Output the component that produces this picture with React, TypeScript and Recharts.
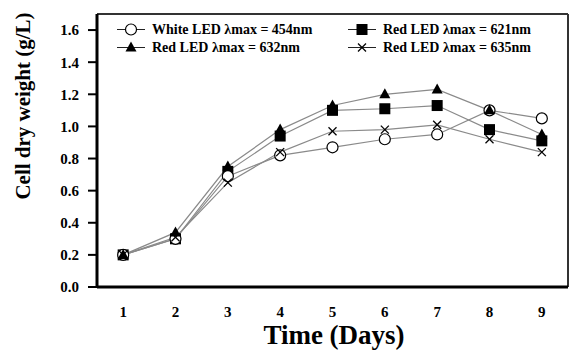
import {
  Label,
  Line,
  LineChart,
  ReferenceLine,
  XAxis,
  YAxis,
} from "recharts";

const days = [1, 2, 3, 4, 5, 6, 7, 8, 9];
const white454 = [0.2, 0.3, 0.69, 0.82, 0.87, 0.92, 0.95, 1.1, 1.05];
const red621 = [0.2, 0.3, 0.72, 0.94, 1.1, 1.11, 1.13, 0.98, 0.91];
const red632 = [0.2, 0.34, 0.75, 0.98, 1.13, 1.2, 1.23, 1.1, 0.95];
const red635 = [0.2, 0.31, 0.65, 0.84, 0.97, 0.98, 1.01, 0.92, 0.84];

const yTicks = [0, 0.2, 0.4, 0.6, 0.8, 1.0, 1.2, 1.4, 1.6];
const bandEdges = [0.5, 1.5, 2.5, 3.5, 4.5, 5.5, 6.5, 7.5, 8.5, 9.5];

type Kind = "circle" | "square" | "triangle" | "cross";

// drawing order: squares first, crosses on top
const series: { key: string; label: string; kind: Kind }[] = [
  { key: "red621", label: "Red LED λmax = 621nm", kind: "square" },
  { key: "white454", label: "White LED λmax = 454nm", kind: "circle" },
  { key: "red632", label: "Red LED λmax = 632nm", kind: "triangle" },
  { key: "red635", label: "Red LED λmax = 635nm", kind: "cross" },
];

const legendOrder = ["white454", "red621", "red632", "red635"];

const data = days.map((d, i) => ({
  day: d,
  white454: white454[i],
  red621: red621[i],
  red632: red632[i],
  red635: red635[i],
}));

const serif = "'Liberation Serif', 'Times New Roman', serif";

function Marker({ kind, cx, cy }: { kind: Kind; cx: number; cy: number }) {
  if (kind === "circle")
    return <circle cx={cx} cy={cy} r={5.5} fill="#fff" stroke="#000" strokeWidth={1.2} />;
  if (kind === "square")
    return <rect x={cx - 5.5} y={cy - 5.5} width={11} height={11} fill="#000" />;
  if (kind === "triangle")
    return (
      <polygon
        points={`${cx},${cy - 6} ${cx - 5.5},${cy + 4} ${cx + 5.5},${cy + 4}`}
        fill="#000"
      />
    );
  return (
    <g stroke="#000" strokeWidth={1.3}>
      <line x1={cx - 4} y1={cy - 4} x2={cx + 4} y2={cy + 4} />
      <line x1={cx - 4} y1={cy + 4} x2={cx + 4} y2={cy - 4} />
    </g>
  );
}

function makeDot(kind: Kind) {
  return (props: any) => (
    <Marker key={`${kind}-${props.index}`} kind={kind} cx={props.cx} cy={props.cy} />
  );
}

function ChartLegend() {
  const items = legendOrder.map((k) => series.find((s) => s.key === k)!);
  return (
    <div
      style={{
        position: "absolute",
        left: 116,
        top: 22,
        display: "grid",
        gridTemplateColumns: "231px 200px",
        rowGap: 3,
        fontFamily: serif,
        fontWeight: "bold",
        fontSize: 14,
        color: "#000",
      }}
    >
      {items.map((s) => (
        <div key={s.key} style={{ display: "flex", alignItems: "center", height: 15 }}>
          <svg width={32} height={15} style={{ marginRight: 4 }}>
            <line x1={1} y1={7.5} x2={29} y2={7.5} stroke="#222" strokeWidth={1} />
            <Marker kind={s.kind} cx={15} cy={7.5} />
          </svg>
          <span style={{ whiteSpace: "nowrap" }}>{s.label}</span>
        </div>
      ))}
    </div>
  );
}

export default function App() {
  return (
    <div style={{ position: "absolute", left: 0, top: 0, background: "#fff" }}>
      <LineChart
        width={570}
        height={351}
        data={data}
        margin={{ top: 14, right: 2, left: 0, bottom: 0 }}
      >
        <XAxis
          xAxisId="b"
          type="number"
          dataKey="day"
          domain={[0.5, 9.5]}
          ticks={days}
          height={63}
          axisLine={false}
          tickLine={false}
          tickSize={6}
          tickMargin={12}
          tick={{ fill: "#000", fontSize: 15, fontWeight: "bold", fontFamily: serif }}
        >
          <Label
            content={() => (
              <text
                x={334}
                y={344}
                textAnchor="middle"
                fill="#000"
                fontSize={27}
                fontWeight="bold"
                fontFamily={serif}
              >
                Time (Days)
              </text>
            )}
          />
        </XAxis>
        <XAxis
          xAxisId="a"
          type="number"
          dataKey="day"
          domain={[0.5, 9.5]}
          ticks={bandEdges}
          tick={false}
          height={1}
          tickSize={6}
          axisLine={{ stroke: "#000", strokeWidth: 3 }}
          tickLine={{ stroke: "#000", strokeWidth: 2 }}
        />
        <YAxis
          type="number"
          domain={[0, 1.7]}
          ticks={yTicks}
          width={97}
          tickSize={9}
          tickMargin={9}
          tickFormatter={(v: number) => v.toFixed(1)}
          axisLine={{ stroke: "#000", strokeWidth: 3 }}
          tickLine={{ stroke: "#000", strokeWidth: 2 }}
          tick={{ fill: "#000", fontSize: 15, fontWeight: "bold", fontFamily: serif }}
        >
          <Label
            content={() => (
              <text
                x={30}
                y={106}
                transform="rotate(-90 30 106)"
                textAnchor="middle"
                fill="#000"
                fontSize={21}
                fontWeight="bold"
                fontFamily={serif}
              >
                Cell dry weight (g/L)
              </text>
            )}
          />
        </YAxis>
        <ReferenceLine xAxisId="a" y={1.7} stroke="#333" strokeWidth={2} />
        <ReferenceLine xAxisId="a" x={9.5} stroke="#333" strokeWidth={2} />
        {series.map((s) => (
          <Line
            key={s.key}
            xAxisId="b"
            dataKey={s.key}
            type="linear"
            stroke="#8a8a8a"
            strokeWidth={1.2}
            dot={makeDot(s.kind)}
            activeDot={false}
            isAnimationActive={false}
            legendType="none"
          />
        ))}
      </LineChart>
      <ChartLegend />
    </div>
  );
}
